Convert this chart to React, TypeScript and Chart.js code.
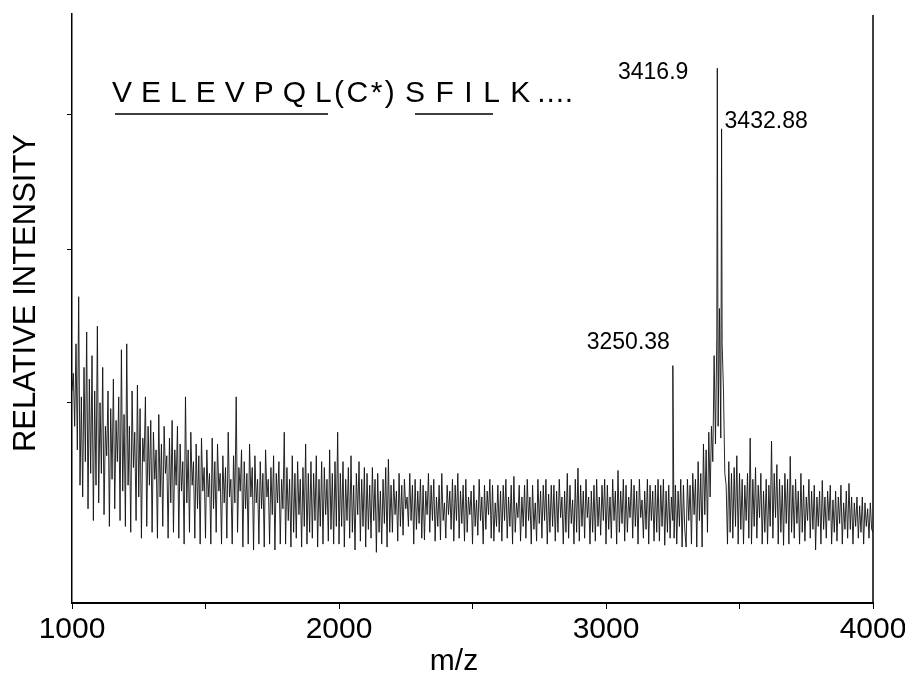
import React, { useEffect, useRef } from "react";
import { Chart, registerables } from "chart.js";

Chart.register(...registerables);

// m/z sampling grid of the spectrum trace
const MZ_START = 1000;
const MZ_STEP = 5;

// relative intensity, one value per 5 Da (1000 … 4000), 20 values per 100 Da row
const intensity = [
  36, 39, 30, 44, 26, 52, 20, 35, 18, 40, 24, 46, 16, 38, 22, 42, 14, 36, 20, 47,
  17, 34, 22, 40, 15, 30, 25, 36, 13, 33, 21, 38, 16, 31, 24, 35, 14, 43, 19, 32,
  13, 44, 20, 30, 12, 36, 23, 29, 14, 37, 18, 33, 11, 28, 24, 35, 13, 30, 20, 31,
  12, 29, 21, 26, 11, 32, 18, 27, 13, 30, 22, 25, 11, 28, 17, 31, 12, 26, 20, 30,
  11, 27, 19, 24, 10, 35, 17, 26, 12, 29, 20, 24, 11, 27, 16, 25, 10, 28, 19, 23,
  11, 26, 18, 22, 10, 28, 16, 24, 12, 27, 19, 22, 10, 25, 17, 23, 11, 29, 18, 21,
  10, 25, 17, 35, 12, 23, 19, 26, 9.5, 24, 16, 22, 10, 27, 18, 23, 9, 25, 17, 21,
  10, 24, 16, 22, 9.5, 26, 18, 21, 10, 23, 15, 25, 9, 22, 17, 24, 10, 21, 16, 29,
  10, 23, 14, 21, 9.5, 25, 12, 22, 11, 24, 15, 21, 9.5, 23, 13, 27, 10, 22, 12, 24,
  11, 22, 14, 25, 9.5, 21, 13, 24, 10, 23, 15, 21, 10.5, 26, 12.5, 22, 10, 24, 13, 29,
  10, 22, 13, 24, 9.5, 21, 14, 23, 11, 25, 12, 20, 9, 22, 15, 24, 10.5, 21, 13, 23,
  9.5, 22, 12.5, 20, 11, 23, 14, 21, 8.6, 22, 12, 19, 10, 21, 13.5, 23, 9.5, 24.4, 12, 20,
  12, 21, 15, 19, 10.5, 22, 13, 20, 11.5, 21, 16, 18, 13, 22, 14, 20, 10, 21, 12.5, 19,
  13.5, 21, 11, 20, 10.7, 19, 15, 22, 12, 20, 14, 21, 10.5, 18, 13, 20, 10.7, 22, 14, 17,
  11, 20, 15, 19, 12.5, 21, 10.5, 20, 14, 22, 11, 19, 13.5, 20, 10.5, 21, 12, 18, 15, 19,
  10, 20, 13, 17.5, 11.5, 21, 14, 18, 10, 20, 12.5, 19, 15, 21, 11, 20, 10.5, 17, 13, 20,
  12, 19, 10.5, 20, 14, 21, 11, 18, 13, 20, 10, 21.5, 12, 17, 14.5, 20, 10.5, 18, 13, 20,
  11, 21, 14, 18, 10, 20, 12.5, 17, 10.5, 21, 13.5, 19, 11, 20, 14, 21, 10, 18.5, 12, 20,
  13, 20, 10.5, 19, 12, 21, 14.5, 18, 10, 19, 12, 22, 11, 20, 13.5, 17.5, 10, 21, 12, 22.9,
  10.5, 20, 13, 19, 11, 21, 14.5, 18, 10, 19, 12, 20, 10.5, 21, 13, 18, 11.5, 20, 14, 21,
  10, 20, 12.5, 18, 11, 21, 14, 19, 10, 22.5, 12, 19, 13.5, 21, 10.5, 20, 12, 18, 14.5, 21,
  11, 20, 13, 19, 10, 21, 14.5, 17.5, 11, 19, 12.5, 21, 10, 20, 14, 19, 10.5, 20, 12, 21,
  10.5, 20, 13, 21, 9.8, 19, 12, 20, 11, 18, 14, 11, 20, 10, 19, 13, 21, 9.5, 20, 12.5,
  9.5, 21, 14, 20, 10, 22, 15, 21, 9.5, 24, 14, 22, 9.5, 27, 15, 26, 12, 29, 18, 30,
  24, 42, 27, 45, 30, 50, 28, 44, 36, 22, 20, 10, 24, 12, 22, 11, 23, 13, 25, 10,
  22, 12.5, 21, 10, 20, 14, 22, 11, 28, 10, 21, 13, 23, 11, 20, 14.5, 22, 10, 19, 12,
  21, 10, 20, 13, 27.5, 11, 22, 14.5, 23.5, 10, 21, 12, 20, 9.8, 22, 13.5, 21, 10, 24.9, 12,
  20, 11, 21, 13.5, 19, 10, 22, 12, 20, 10.5, 18, 14, 21, 11, 19, 12.5, 20, 9, 18, 13,
  19, 10, 20.8, 12.5, 18, 11, 19, 14, 20, 10, 17.5, 12, 19, 10.5, 18, 13.5, 20, 10, 17, 12.5,
  19, 11, 20.3, 12.5, 18, 10, 17, 13, 18, 11, 16.5, 12, 18, 10, 17, 13, 16, 11, 17, 12.5,
  12,
];

// labelled peaks
const peakMz = [3250.38, 3416.9, 3432.88];
const peakIntensity = [40.3, 90.8, 80.5];
const peakLabels = ["3250.38", "3416.9", "3432.88"];

// axes
const xTickValues = [1000, 1500, 2000, 2500, 3000, 3500, 4000];
const xTickLabels = ["1000", "", "2000", "", "3000", "", "4000"];
const yTickMarks = [34, 60, 83];

const FONT = '"Liberation Sans", Arial, Helvetica, sans-serif';

function drawSpaced(ctx: CanvasRenderingContext2D, text: string, x: number, y: number, spacing: number) {
  let cx = x;
  for (const ch of text) {
    ctx.fillText(ch, cx, y);
    cx += ctx.measureText(ch).width + spacing;
  }
  return cx - spacing;
}

const annotations = {
  id: "annotations",
  afterDraw(chart: any) {
    const ctx: CanvasRenderingContext2D = chart.ctx;
    const { top, right, bottom } = chart.chartArea;
    const xs = chart.scales.x;
    const ys = chart.scales.y;
    ctx.save();
    // right frame line
    ctx.strokeStyle = "#000";
    ctx.lineWidth = 1.5;
    ctx.beginPath();
    ctx.moveTo(right, top + 1);
    ctx.lineTo(right, bottom);
    ctx.stroke();

    ctx.fillStyle = "#000";
    ctx.textBaseline = "alphabetic";

    // y title
    ctx.save();
    ctx.translate(35, 293);
    ctx.rotate(-Math.PI / 2);
    ctx.textAlign = "center";
    ctx.font = `31px ${FONT}`;
    ctx.fillText("RELATIVE INTENSITY", 0, 0);
    ctx.restore();

    // x title
    ctx.textAlign = "center";
    ctx.font = `30px ${FONT}`;
    ctx.fillText("m/z", 454, 670);

    // sequence
    ctx.textAlign = "left";
    ctx.font = `30px ${FONT}`;
    drawSpaced(ctx, "VELEVPQL", 112, 102, 9);
    drawSpaced(ctx, "(C*)", 334, 102, 2.5);
    const kEnd = drawSpaced(ctx, "SFILK", 405, 102, 10.5);
    drawSpaced(ctx, "....", kEnd + 7, 102, 0.8);
    ctx.lineWidth = 1.5;
    ctx.beginPath();
    ctx.moveTo(115, 114);
    ctx.lineTo(328, 114);
    ctx.moveTo(415, 114);
    ctx.lineTo(493, 114);
    ctx.stroke();

    // peak labels
    ctx.font = `23px ${FONT}`;
    const offsets = [
      { dx: -3, dy: -17, align: "right" },
      { dx: -29, dy: 11, align: "right" },
      { dx: 3, dy: -1, align: "left" },
    ];
    peakMz.forEach((mz, i) => {
      const px = xs.getPixelForValue(mz);
      const py = ys.getPixelForValue(peakIntensity[i]);
      ctx.textAlign = offsets[i].align as CanvasTextAlign;
      ctx.fillText(peakLabels[i], px + offsets[i].dx, py + offsets[i].dy);
    });
    ctx.restore();
  },
};

export default function App() {
  const ref = useRef<HTMLCanvasElement | null>(null);
  useEffect(() => {
    if (!ref.current) return;
    const points = intensity.map((v, i) => ({ x: MZ_START + i * MZ_STEP, y: v }));
    peakMz.forEach((mz, i) => points.push({ x: mz, y: peakIntensity[i] }));
    points.sort((a, b) => a.x - b.x);

    const chart = new Chart(ref.current, {
      type: "line",
      data: {
        datasets: [
          {
            data: points,
            borderColor: "#111",
            borderWidth: 0.9,
            pointRadius: 0,
            tension: 0,
            fill: false,
          },
        ],
      },
      options: {
        animation: false,
        responsive: false,
        events: [],
        layout: { padding: { left: 0, right: 32, top: 14, bottom: 0 } },
        plugins: { legend: { display: false }, tooltip: { enabled: false } },
        scales: {
          x: {
            type: "linear",
            min: 1000,
            max: 4000,
            afterBuildTicks: (s: any) => {
              s.ticks = xTickValues.map((v) => ({ value: v }));
            },
            afterFit: (s: any) => {
              s.height = 72;
              s.paddingLeft = 0;
              s.paddingRight = 0;
            },
            ticks: {
              autoSkip: false,
              maxRotation: 0,
              padding: 3,
              color: "#000",
              font: { family: FONT, size: 30 },
              callback: (v: any) => {
                const i = xTickValues.indexOf(Number(v));
                return i >= 0 ? xTickLabels[i] : "";
              },
            },
            grid: { drawOnChartArea: false, drawTicks: true, tickLength: 6, color: "#000", lineWidth: 1 },
            border: { display: true, color: "#000", width: 2 },
          },
          y: {
            type: "linear",
            min: 0,
            max: 100,
            afterBuildTicks: (s: any) => {
              s.ticks = yTickMarks.map((v) => ({ value: v }));
            },
            afterFit: (s: any) => {
              s.width = 72;
              s.paddingTop = 0;
              s.paddingBottom = 0;
            },
            ticks: { display: false },
            grid: { drawOnChartArea: false, drawTicks: true, tickLength: 5, color: "#000", lineWidth: 1 },
            border: { display: true, color: "#000", width: 1.5 },
          },
        },
      },
      plugins: [annotations],
    } as any);
    return () => chart.destroy();
  }, []);

  return (
    <div style={{ position: "fixed", left: 0, top: 0, width: 905, height: 675, background: "#fff" }}>
      <canvas ref={ref} width={905} height={675} style={{ width: 905, height: 675, display: "block" }} />
    </div>
  );
}
